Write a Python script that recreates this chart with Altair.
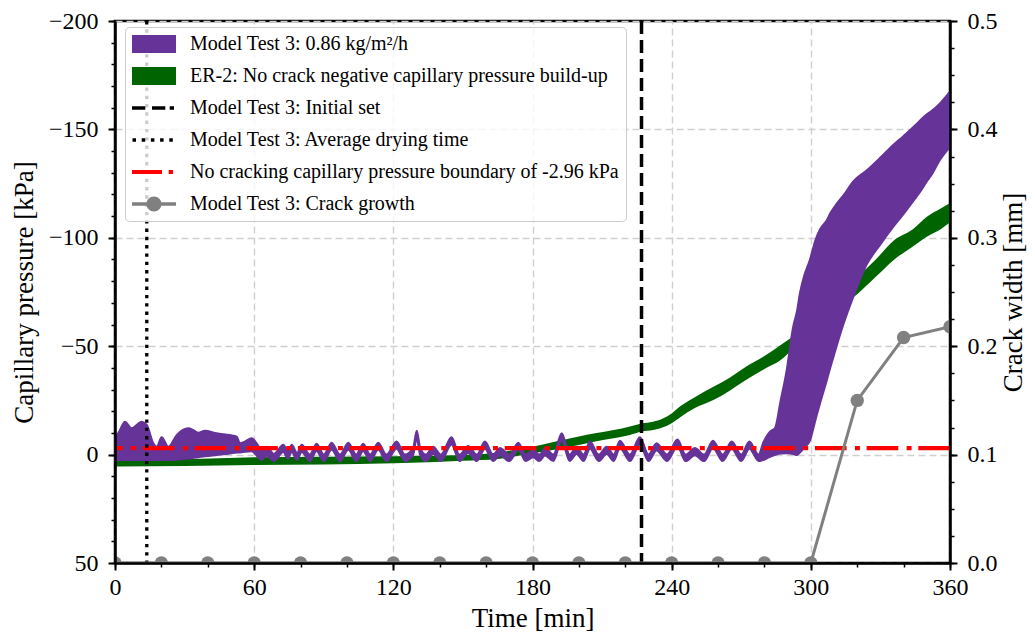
import altair as alt
import pandas as pd

FONT = "Liberation Serif"

# ---------------- data ----------------
# Model Test 3: 0.86 kg/m²/h  (band: top = most negative edge, bot = other edge), kPa
purple_t = [0, 2, 4.3, 7.2, 11.5, 13.7, 16.5, 18, 20.1, 23, 26.6, 31.6, 33.8, 35.9, 38.8,
            43.8, 49.6, 52.5, 53.9, 56, 58.9, 61.1, 63.2, 65.4, 68.5, 72.6, 74.5, 76.2,
            78.5, 80.5, 84, 86.9, 90, 93.4, 97, 100.6, 104, 107, 110, 113.5, 117, 121.4,
            125, 128.5, 130.1, 131.5, 134, 137.2, 140.5, 145.1, 148.5, 152.3, 156, 159.5,
            163, 166, 170, 173.9, 177, 180.3, 183, 185.4, 189, 192.6, 196, 199, 202,
            204.8, 208.5, 212, 215, 217.7, 222, 226.3, 230, 233.5, 238, 242.5, 246, 250,
            254, 257.8, 262, 265.9, 270, 273.5, 277.5, 279.4, 282.4, 284.5, 287, 289.6,
            292.4, 294, 295.3, 297, 299.6, 302, 304, 306.8, 308.5, 310, 312.8, 314, 318.3,
            324, 330, 335.5, 340, 345.6, 347, 350, 352, 355.7, 360]
purple_top = [-7.5, -11, -15.2, -12.1, -15.2, -13.7, -5.2, -3.6, -8, -3.6, -9, -12.1, -11.3,
              -10.1, -11, -9.8, -9, -8.3, -5.2, -6, -7.5, -5.2, -2.1, -3.6, -0.3, -4.5, -1.5,
              -4.5, -0.8, -4.5, 0, -5.0, 0, -5.5, 0, -5.5, 0, -5.0, 0, -5.5, 0, -6.0,
              0, -3.0, -11.0, -3.5, 0, -3.6, 0, -8.0, 0, -4.0, 0, -6.0,
              0, -3.0, 0, -5.5, 0, -2.1, 0, -2.9, 0, -9.8, 0, -3.6, 0,
              -6.0, 0, -3.6, 0, -6.4, 0, -8.0, 0, -5.2, 0, -7.0, 0, -3.0,
              0, -6.4, 0, -6.0, 0, -6.0, 0, -5.3, -10.6, -12.1, -25, -39,
              -59, -66, -74.4, -82, -89.8, -99, -104, -108, -111.5, -114, -118, -119.5, -126,
              -131, -137, -142.8, -147, -152.5, -154, -157, -158.5, -162, -167.4]
purple_bot = [2.5, 2.5, 2.5, 2.5, 2.5, 2.5, 2.5, 2.5, 2.5, 2.5, 2.3, 1.8, 1.5,
              1.2, 0.8, 0.2, -0.5, -1.0, -1.0, -1.3, -1.5, 0.5, 2.5, 0.5, 3.0, -1.2, 1.8,
              -1.2, 2.5, -1.2, 3.0, -1.7, 3.0, -2.2, 3.0, -2.2, 3.0, -1.7, 3.0, -2.2, 3.0, -2.7,
              3.0, 0.3, -7.5, 0, 3.0, -0.3, 3.0, -4.7, 3.0, -0.7, 3.0, -2.7,
              3.0, 0.3, 3.0, -2.2, 3.0, 1.2, 3.0, 0.4, 3.0, -6.5, 3.0, -0.3, 3.0,
              -2.7, 3.0, -0.3, 3.0, -3.1, 3.0, -4.7, 3.0, -1.9, 3.0, -3.7, 3.0, 0.3,
              3.0, -3.1, 3.0, -2.7, 3.0, -2.7, 3.0, 2.5, 1.0, 0.2, -0.5, -0.6,
              -0.3, 0.2, -1.0, -3.0, -6.5, -16, -23.8, -34, -40.5, -46, -56, -60, -72.8,
              -87.5, -97, -105, -111, -119, -121, -126, -129, -136, -142]

# ER-2: No crack negative capillary pressure build-up (band), kPa
green_t = [0, 30, 60, 90, 120, 150, 165, 180, 190, 200, 207, 215, 222, 227, 232, 236, 240,
           244, 250, 258, 265, 272, 280, 287, 292, 300, 310, 320, 328, 336, 344, 350, 356, 360]
green_top = [2.0, 2.0, 1.2, 1.0, 0.8, 0.2, -1.0, -3.6, -6.0, -8.3, -9.8, -11.3, -13.0, -14.4,
             -15.2, -16.5, -19.0, -22.5, -26.5, -31.3, -35.5, -40.5, -45.5, -50.6, -54.4,
             -63, -73, -82, -90, -99, -104, -109.7, -113.5, -116]
green_bot = [5.5, 5.3, 4.8, 4.6, 4.0, 2.8, 2.0, -0.6, -2.3, -4.4, -6.0, -7.5, -9.0, -10.6,
             -11.3, -12.5, -14.5, -17.5, -21.5, -25.2, -29.5, -34.4, -39.5, -43.6, -48.5,
             -57, -66, -74, -82, -90, -96, -100.5, -104, -107]

# Model Test 3: Crack growth (mm)
crack_t = [0, 20, 40, 60, 80, 100, 120, 140, 160, 180, 200, 220, 240, 260, 280, 300, 320, 340, 360]
crack_w = [0.0, 0.0, 0.0, 0.0, 0.0, 0.0, 0.0, 0.0, 0.0, 0.0, 0.0, 0.0, 0.0, 0.0, 0.0, 0.0,
           0.15, 0.208, 0.218]

initial_set_t = [227]
drying_t = [13.7]
boundary_kpa = [-2.96]

series = [
    "Model Test 3: 0.86 kg/m²/h",
    "ER-2: No crack negative capillary pressure build-up",
    "Model Test 3: Initial set",
    "Model Test 3: Average drying time",
    "No cracking capillary pressure boundary of -2.96 kPa",
    "Model Test 3: Crack growth",
]

x_ticks = [0, 60, 120, 180, 240, 300, 360]
x_minor = [0, 20, 40, 60, 80, 100, 120, 140, 160, 180, 200, 220, 240, 260, 280, 300, 320, 340, 360]
yl_ticks = [-200, -150, -100, -50, 0, 50]
yl_minor = [-200, -190, -180, -170, -160, -150, -140, -130, -120, -110, -100, -90, -80, -70,
            -60, -50, -40, -30, -20, -10, 0, 10, 20, 30, 40, 50]
yr_ticks = [0.0, 0.1, 0.2, 0.3, 0.4, 0.5]
yr_minor = [0.0, 0.025, 0.05, 0.075, 0.1, 0.125, 0.15, 0.175, 0.2, 0.225, 0.25, 0.275, 0.3,
            0.325, 0.35, 0.375, 0.4, 0.425, 0.45, 0.475, 0.5]

# ---------------- styling ----------------
PURPLE = "#663399"
GREEN = "#006400"
RED = "#ff0000"
GRAY = "#808080"

series_colors = [PURPLE, GREEN, "black", "black", RED, GRAY]
# legend glyphs as custom symbol paths (1 unit = 10 px with symbolSize 400)
P_RECT = "M-2.2,-0.9H2.2V0.9H-2.2Z"
P_DASH = "M-2.2,-0.18H-0.87V0.18H-2.2Z M-0.2,-0.18H1.13V0.18H-0.2Z M1.57,-0.18H2.0V0.18H1.57Z"
P_DOT = ("M-2.15,-0.17H-1.8V0.17H-2.15Z M-1.23,-0.17H-0.88V0.17H-1.23Z "
         "M-0.31,-0.17H0.04V0.17H-0.31Z M0.61,-0.17H0.96V0.17H0.61Z M1.53,-0.17H1.88V0.17H1.53Z")
P_DASHDOT = "M-2.2,-0.21H0.8V0.21H-2.2Z M1.47,-0.21H1.9V0.21H1.47Z"
P_MARK = ("M-2.2,-0.165H-0.74V0.165H-2.2Z M0.74,-0.165H2.2V0.165H0.74Z "
          "M-0.75,0A0.75,0.75 0 1,1 0.75,0A0.75,0.75 0 1,1 -0.75,0Z")
series_shapes = [P_RECT, P_RECT, P_DASH, P_DOT, P_DASHDOT, P_MARK]

xs = alt.Scale(domain=[0, 360], nice=False, zero=False)
yls = alt.Scale(domain=[-200, 50], reverse=True, nice=False, zero=False)
yrs = alt.Scale(domain=[0, 0.5], nice=False, zero=False)

txt = dict(labelFont=FONT, titleFont=FONT, labelFontSize=24, titleFontSize=27,
           labelColor="black", titleColor="black", titleFontWeight="normal",
           domainColor="black", tickColor="black")

x_axis_main = alt.Axis(values=x_ticks, orient="bottom", title="Time [min]", grid=False,
                       tickSize=7, tickWidth=2, domainWidth=2.5, labelPadding=5,
                       titlePadding=6, zindex=1, labelFlush=False, labelOverlap=False,
                       format="d", **txt)
y_axis_main = alt.Axis(values=yl_ticks, orient="left", title="Capillary pressure [kPa]",
                       grid=False, tickSize=7, tickWidth=2, domainWidth=2.5, labelPadding=10,
                       titlePadding=10, zindex=1, labelOverlap=False, labelFlush=False, **txt)
y_axis_right = alt.Axis(values=yr_ticks, orient="right", title="Crack width [mm]",
                        format=".1f", grid=False, tickSize=7, tickWidth=2, domainWidth=2.5,
                        labelPadding=10, titlePadding=3, titleAngle=270, titleBaseline="top",
                        zindex=1, labelOverlap=False, labelFlush=False, **txt)

grid_style = dict(grid=True, ticks=False, labels=False, domain=False, title=None,
                  gridColor="#cfcfcf", gridDash=[7, 4], gridWidth=1.4, zindex=0)
x_axis_grid = alt.Axis(values=x_ticks, orient="bottom", **grid_style)
y_axis_grid = alt.Axis(values=yl_ticks, orient="left", **grid_style)

minor_style = dict(grid=False, labels=False, domain=False, title=None, tickSize=4,
                   tickWidth=1.5, tickColor="black", zindex=1)
x_axis_minor = alt.Axis(values=x_minor, orient="bottom", **minor_style)
y_axis_minor = alt.Axis(values=yl_minor, orient="left", **minor_style)
yr_axis_minor = alt.Axis(values=yr_minor, orient="right", **minor_style)

legend = alt.Legend(orient="none", legendX=10, legendY=6, title=None, symbolSize=400,
                    symbolStrokeWidth=0, symbolOffset=12, labelOffset=26, labelFontSize=20,
                    labelFont=FONT, labelColor="black", labelLimit=1000, rowPadding=12,
                    padding=7, fillColor="rgba(255,255,255,0.8)", strokeColor="#cccccc",
                    cornerRadius=4)

# ---------------- layers ----------------
purple_df = pd.DataFrame({"t": purple_t, "top": purple_top, "bot": purple_bot})
green_df = pd.DataFrame({"t": green_t, "top": green_top, "bot": green_bot})
crack_df = pd.DataFrame({"t": crack_t, "w": crack_w})
anchor_df = pd.DataFrame({"t": [0], "v": [0]})

green_area = alt.Chart(green_df).mark_area(color=GREEN, opacity=1, interpolate="monotone").encode(
    x=alt.X("t:Q", scale=xs, axis=x_axis_main),
    y=alt.Y("top:Q", scale=yls, axis=y_axis_main),
    y2="bot:Q",
)
purple_area = alt.Chart(purple_df).mark_area(
    color=PURPLE, opacity=1, interpolate="monotone", stroke=PURPLE, strokeWidth=2,
    strokeJoin="round").encode(
    x=alt.X("t:Q", scale=xs, axis=x_axis_main),
    y=alt.Y("top:Q", scale=yls, axis=y_axis_main),
    y2="bot:Q",
)
red_rule = alt.Chart(pd.DataFrame({"v": boundary_kpa})).mark_rule(
    color=RED, strokeWidth=4.3, strokeDash=[31.7, 6.7, 5, 8.3]).encode(
    y=alt.Y("v:Q", scale=yls, axis=y_axis_main))
init_rule = alt.Chart(pd.DataFrame({"t": initial_set_t})).mark_rule(
    color="black", strokeWidth=3.5, strokeDash=[13, 6]).encode(
    x=alt.X("t:Q", scale=xs, axis=x_axis_main))
dry_rule = alt.Chart(pd.DataFrame({"t": drying_t})).mark_rule(
    color="black", strokeWidth=3.3, strokeDash=[3.4, 4.9]).encode(
    x=alt.X("t:Q", scale=xs, axis=x_axis_main))
legend_layer = alt.Chart(pd.DataFrame({"series": series})).mark_point(
    filled=True, opacity=1).encode(
    color=alt.Color("series:N", scale=alt.Scale(domain=series, range=series_colors), legend=legend),
    shape=alt.Shape("series:N", scale=alt.Scale(domain=series, range=series_shapes), legend=legend),
).transform_filter("false")

main = alt.layer(green_area, purple_area, red_rule, init_rule, dry_rule, legend_layer)

crack_line = alt.Chart(crack_df).mark_line(color=GRAY, strokeWidth=3, clip=True).encode(
    x=alt.X("t:Q", scale=xs, axis=None),
    y=alt.Y("w:Q", scale=yrs, axis=y_axis_right))
crack_pts = alt.Chart(crack_df).mark_point(color=GRAY, filled=True, opacity=1, size=180,
                                           clip=True).encode(
    x=alt.X("t:Q", scale=xs, axis=None),
    y=alt.Y("w:Q", scale=yrs, axis=y_axis_right))
right = alt.layer(crack_line, crack_pts)

grid_layer = alt.Chart(anchor_df).mark_point(opacity=0).encode(
    x=alt.X("t:Q", scale=xs, axis=x_axis_grid),
    y=alt.Y("v:Q", scale=yls, axis=y_axis_grid))
minor_layer = alt.Chart(anchor_df).mark_point(opacity=0).encode(
    x=alt.X("t:Q", scale=xs, axis=x_axis_minor),
    y=alt.Y("v:Q", scale=yls, axis=y_axis_minor))
minor_right = alt.Chart(anchor_df).mark_point(opacity=0).encode(
    x=alt.X("t:Q", scale=xs, axis=None),
    y=alt.Y("v:Q", scale=yrs, axis=yr_axis_minor))

chart = alt.layer(grid_layer, main, right, minor_layer, minor_right).resolve_scale(
    x="independent", y="independent"
).properties(
    width=835, height=542,
    padding={"left": 107, "top": 13, "right": 77, "bottom": 70},
    autosize=alt.AutoSizeParams(type="none"),
).configure(font=FONT).configure_view(stroke="black", strokeWidth=2.5)

chart.save("out.html", embed_options={"renderer": "svg", "actions": False})
